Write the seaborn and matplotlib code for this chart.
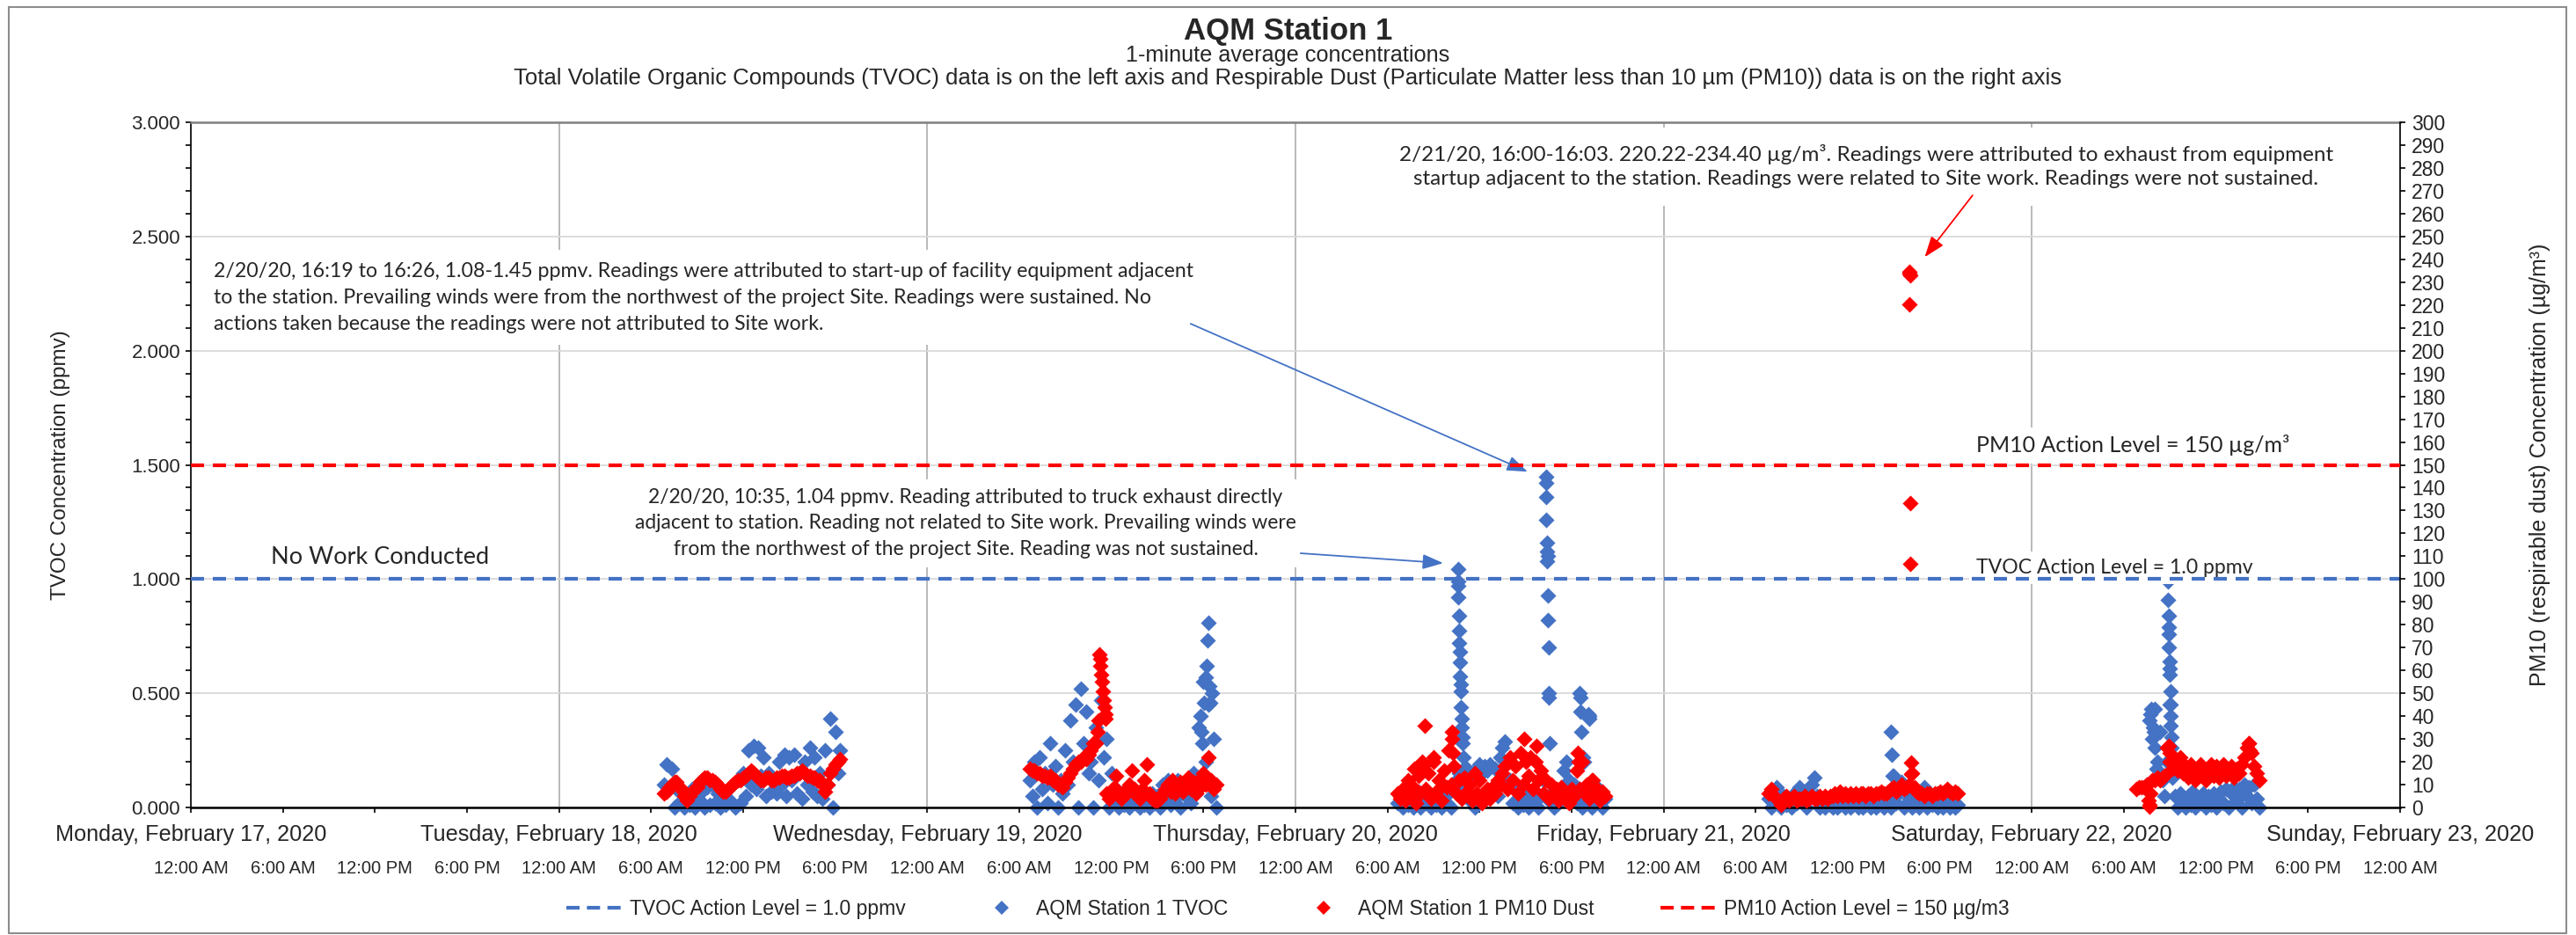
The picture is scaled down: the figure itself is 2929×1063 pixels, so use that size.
import pandas as pd
import seaborn as sns
import matplotlib.pyplot as plt
import matplotlib.dates as mdates
from matplotlib.lines import Line2D
from matplotlib.patches import Rectangle
from matplotlib.ticker import FixedLocator, MultipleLocator, FormatStrFormatter

BLUE = '#4472C4'
RED = '#FF0000'

# 10-minute readings, one block per working day
tvoc_feb18_start = '2020-02-18 06:50'
tvoc_feb18 = [0.10, 0.19, 0.08, 0.17, 0.00, 0.08,
              0.02, 0.06, 0.00, 0.05, 0.01, 0.08,
              0.00, 0.10, 0.03, 0.07, 0.00, 0.09,
              0.01, 0.10, 0.02, 0.06, 0.00, 0.05,
              0.01, 0.08, 0.03, 0.10, 0.00, 0.12,
              0.02, 0.15, 0.05, 0.25, 0.10, 0.27,
              0.08, 0.26, 0.14, 0.22, 0.05, 0.15,
              0.07, 0.12, 0.06, 0.20, 0.10, 0.23,
              0.05, 0.22, 0.12, 0.23, 0.06, 0.15,
              0.04, 0.20, 0.10, 0.26, 0.07, 0.22,
              0.05, 0.15, 0.04, 0.25, 0.10, 0.39,
              0.00, 0.33, 0.15, 0.25]
pm10_feb18_start = '2020-02-18 06:50'
pm10_feb18 = [6, 7, 9, 10, 11, 11,
              9, 8, 5, 3, 5, 7,
              8, 9, 11, 12, 13, 13,
              12, 12, 11, 10, 8, 7,
              7, 8, 9, 10, 11, 12,
              12, 13, 14, 15, 16, 15,
              14, 13, 12, 12, 13, 13,
              12, 12, 13, 13, 14, 14,
              13, 13, 14, 14, 15, 15,
              16, 15, 14, 14, 13, 13,
              12, 12, 10, 7, 10, 15,
              17, 19, 20, 21]

tvoc_feb19_start = '2020-02-19 06:40'
tvoc_feb19 = [0.12, 0.05,
              0.20, 0.00, 0.22, 0.08, 0.15, 0.02,
              0.28, 0.10, 0.18, 0.00, 0.12, 0.06,
              0.25, 0.10, 0.38, 0.20, 0.45, 0.00,
              0.52, 0.28, 0.42, 0.15, 0.20, 0.00,
              0.35, 0.12, 0.47, 0.22, 0.30, 0.00,
              0.15, 0.03, 0.08, 0.00, 0.06, 0.01,
              0.05, 0.00, 0.08, 0.02, 0.06, 0.00,
              0.05, 0.01, 0.04, 0.00, 0.06, 0.02,
              0.05, 0.00, 0.10, 0.03, 0.12, 0.01,
              0.10, 0.04, 0.12, 0.00, 0.10, 0.05,
              0.12, 0.02, 0.15, 0.06, 0.35, 0.10,
              0.55, 0.20, 0.45, 0.05, 0.30, 0.00]
pm10_feb19_start = '2020-02-19 06:40'
pm10_feb19 = [17, 16,
              16, 15, 15, 14, 14, 13,
              14, 12, 12, 10, 10, 9,
              11, 13, 15, 17, 19, 20,
              20, 22, 21, 23, 25, 28,
              28, 38, 58, 47, 6, 4,
              5, 9, 14, 5, 4, 7,
              6, 10, 16, 8, 5, 4,
              8, 12, 19, 6, 4, 3,
              3, 4, 6, 8, 10, 7,
              12, 6, 9, 11, 7, 10,
              13, 8, 11, 6, 12, 9,
              15, 10, 22, 12, 8, 10]

tvoc_feb20_start = '2020-02-20 06:40'
tvoc_feb20 = [0.02, 0.05,
              0.00, 0.04, 0.01, 0.06, 0.00, 0.03,
              0.07, 0.00, 0.05, 0.02, 0.06, 0.00,
              0.04, 0.01, 0.07, 0.00, 0.05, 0.02,
              0.06, 0.00, 0.08, 0.12, 0.15, 0.05,
              0.10, 0.17, 0.03, 0.15, 0.00, 0.16,
              0.19, 0.15, 0.18, 0.16, 0.19, 0.08,
              0.17, 0.05, 0.22, 0.26, 0.29, 0.20,
              0.12, 0.02, 0.08, 0.00, 0.05, 0.01,
              0.06, 0.00, 0.04, 0.02, 0.06, 0.00,
              0.05, 0.12, 0.05, 0.03, 0.06, 0.00,
              0.05, 0.02, 0.07, 0.16, 0.20, 0.12,
              0.05, 0.10, 0.02, 0.08, 0.00, 0.05,
              0.02, 0.06, 0.00, 0.10, 0.03, 0.06,
              0.00, 0.04]
pm10_feb20_start = '2020-02-20 06:40'
pm10_feb20 = [6, 4,
              8, 3, 12, 5, 9, 2,
              14, 6, 18, 8, 15, 4,
              20, 7, 12, 3, 16, 9,
              25, 10, 18, 6, 12, 4,
              13, 7, 10, 3, 15, 6,
              12, 2, 6, 8, 4, 9,
              6, 12, 10, 15, 18, 8,
              22, 12, 18, 6, 24, 10,
              20, 14, 22, 8, 20, 12,
              16, 6, 12, 4, 10, 6,
              8, 3, 9, 5, 6, 2,
              8, 5, 16, 8, 20, 6,
              10, 4, 12, 6, 8, 3,
              7, 5]

tvoc_feb21_start = '2020-02-21 06:50'
tvoc_feb21 = [0.04,
              0.00, 0.07, 0.09, 0.02, 0.00, 0.05,
              0.01, 0.03, 0.00, 0.06, 0.02, 0.09,
              0.03, 0.07, 0.00, 0.04, 0.10, 0.13,
              0.05, 0.00, 0.02, 0.00, 0.03, 0.01,
              0.00, 0.02, 0.00, 0.01, 0.03, 0.00,
              0.02, 0.00, 0.01, 0.03, 0.00, 0.02,
              0.00, 0.01, 0.03, 0.00, 0.02, 0.00,
              0.01, 0.03, 0.00, 0.02, 0.04, 0.00,
              0.14, 0.02, 0.06, 0.11, 0.00, 0.02,
              0.04, 0.00, 0.01, 0.03, 0.00, 0.02,
              0.09, 0.00, 0.02, 0.01, 0.03, 0.00,
              0.02, 0.00, 0.01, 0.03, 0.00, 0.02,
              0.00, 0.01]
pm10_feb21_start = '2020-02-21 06:50'
pm10_feb21 = [6,
              8, 5, 4, 3, 1, 4,
              5, 3, 4, 5, 3, 4,
              4, 5, 3, 4, 5, 4,
              4, 5, 4, 5, 4, 5,
              5, 6, 5, 7, 5, 6,
              5, 6, 5, 6, 5, 6,
              6, 5, 6, 6, 5, 6,
              6, 7, 6, 6, 7, 8,
              9, 7, 8, 10, 8, 9,
              10, 15, 9, 7, 6, 6,
              5, 6, 6, 5, 6, 6,
              7, 6, 7, 8, 7, 6,
              7, 6]

tvoc_feb22_start = '2020-02-22 07:30'
tvoc_feb22 = [0.10, 0.38, 0.30,
              0.43, 0.20, 0.33, 0.12, 0.05, 0.20,
              0.45, 0.15, 0.05, 0.00, 0.06, 0.02,
              0.00, 0.05, 0.01, 0.07, 0.00, 0.04,
              0.02, 0.06, 0.00, 0.05, 0.01, 0.06,
              0.00, 0.04, 0.07, 0.02, 0.08, 0.00,
              0.06, 0.09, 0.03, 0.08, 0.00, 0.10,
              0.05, 0.09, 0.02, 0.10, 0.04, 0.00]
pm10_feb22_start = '2020-02-22 06:50'
pm10_feb22 = [8,
              9, 9, 9, 10, 1, 12,
              12, 13, 12, 13, 14, 26,
              20, 17, 19, 16, 22, 15,
              18, 13, 19, 14, 12, 17,
              19, 14, 12, 17, 19, 14,
              18, 13, 16, 19, 14, 16,
              18, 13, 17, 15, 19, 22,
              26, 28, 24, 18, 15, 12]

# single 1-minute readings in the short spikes
tvoc_spike_times = ['2020-02-19 17:48', '2020-02-19 17:52', '2020-02-19 17:56', '2020-02-19 18:02',
                    '2020-02-19 18:08', '2020-02-19 18:12', '2020-02-19 18:15', '2020-02-19 18:18',
                    '2020-02-19 18:24', '2020-02-19 18:28', '2020-02-19 18:33',
                    '2020-02-20 10:35', '2020-02-20 10:36', '2020-02-20 10:37', '2020-02-20 10:38',
                    '2020-02-20 10:39', '2020-02-20 10:40', '2020-02-20 10:41', '2020-02-20 10:42',
                    '2020-02-20 10:43', '2020-02-20 10:44', '2020-02-20 10:45', '2020-02-20 10:46',
                    '2020-02-20 10:48', '2020-02-20 10:49', '2020-02-20 10:50', '2020-02-20 10:52',
                    '2020-02-20 10:54', '2020-02-20 10:56', '2020-02-20 10:58',
                    '2020-02-20 16:19', '2020-02-20 16:20', '2020-02-20 16:21', '2020-02-20 16:22',
                    '2020-02-20 16:23', '2020-02-20 16:24', '2020-02-20 16:25', '2020-02-20 16:26',
                    '2020-02-20 16:27', '2020-02-20 16:28', '2020-02-20 16:29', '2020-02-20 16:31',
                    '2020-02-20 16:32', '2020-02-20 16:34',
                    '2020-02-20 18:32', '2020-02-20 18:34', '2020-02-20 18:36', '2020-02-20 18:38',
                    '2020-02-20 18:44', '2020-02-20 18:48', '2020-02-20 19:06', '2020-02-20 19:08',
                    '2020-02-20 19:10',
                    '2020-02-21 14:50', '2020-02-21 14:52', '2020-02-21 14:54',
                    '2020-02-22 07:45', '2020-02-22 07:48', '2020-02-22 07:52', '2020-02-22 07:56',
                    '2020-02-22 08:02', '2020-02-22 08:08', '2020-02-22 08:52', '2020-02-22 08:53',
                    '2020-02-22 08:54', '2020-02-22 08:55', '2020-02-22 08:56', '2020-02-22 08:57',
                    '2020-02-22 08:58', '2020-02-22 08:59', '2020-02-22 09:00', '2020-02-22 09:01',
                    '2020-02-22 09:02', '2020-02-22 09:03', '2020-02-22 09:04', '2020-02-22 09:05',
                    '2020-02-22 09:06', '2020-02-22 09:07', '2020-02-22 09:08']
tvoc_spike_values = [0.40, 0.33, 0.28, 0.46, 0.57, 0.62, 0.73, 0.81, 0.53, 0.46, 0.50,
                     1.045, 0.99, 0.97, 0.92, 0.84, 0.775, 0.72, 0.68, 0.635, 0.575, 0.54, 0.51,
                     0.44, 0.39, 0.35, 0.31, 0.28, 0.22, 0.17,
                     1.45, 1.42, 1.36, 1.26, 1.16, 1.12, 1.08, 1.10, 0.93, 0.82, 0.70, 0.50,
                     0.48, 0.28,
                     0.50, 0.48, 0.42, 0.33, 0.22, 0.20, 0.41, 0.40, 0.39,
                     0.33, 0.23, 0.14,
                     0.41, 0.43, 0.35, 0.33, 0.26, 0.17, 0.99, 0.91, 0.84, 0.79, 0.76, 0.70,
                     0.64, 0.61, 0.58, 0.51, 0.45, 0.40, 0.36, 0.31, 0.26, 0.20, 0.13]

pm10_spike_times = ['2020-02-19 11:05', '2020-02-19 11:12', '2020-02-19 11:15', '2020-02-19 11:18',
                    '2020-02-19 11:23', '2020-02-19 11:26', '2020-02-19 11:33', '2020-02-19 11:36',
                    '2020-02-19 11:38',
                    '2020-02-20 07:45', '2020-02-20 08:17', '2020-02-20 08:26', '2020-02-20 09:00',
                    '2020-02-20 10:11', '2020-02-20 10:13', '2020-02-20 10:15', '2020-02-20 14:55',
                    '2020-02-20 15:41', '2020-02-20 18:25', '2020-02-20 18:28', '2020-02-20 19:24',
                    '2020-02-21 16:00', '2020-02-21 16:01', '2020-02-21 16:02', '2020-02-21 16:03',
                    '2020-02-21 16:04', '2020-02-21 16:05', '2020-02-21 16:07', '2020-02-21 16:09',
                    '2020-02-22 07:38', '2020-02-22 07:40', '2020-02-22 07:42', '2020-02-22 08:55',
                    '2020-02-22 09:00', '2020-02-22 14:08', '2020-02-22 14:12']
pm10_spike_values = [33, 67, 65, 62, 55, 51, 44, 41, 39,
                     17, 20, 36, 22, 33, 30, 24, 30, 27, 24, 20, 12,
                     220.22, 234.40, 233.6, 232.9, 133.2, 106.8, 19.8, 14.6,
                     3, 0.5, 6, 27, 24, 28, 25]

date_ticks = ['2020-02-17', '2020-02-18', '2020-02-19', '2020-02-20',
              '2020-02-21', '2020-02-22', '2020-02-23']
date_labels = ['Monday, February 17, 2020', 'Tuesday, February 18, 2020',
               'Wednesday, February 19, 2020', 'Thursday, February 20, 2020',
               'Friday, February 21, 2020', 'Saturday, February 22, 2020',
               'Sunday, February 23, 2020']
time_labels = ['12:00 AM', '6:00 AM', '12:00 PM', '6:00 PM'] * 6 + ['12:00 AM']

tvoc_action = 1.0
pm10_action = 150


def readings(blocks, spike_times, spike_values, name):
    parts = [pd.DataFrame({'Time': pd.date_range(start, periods=len(vals), freq='10min'), name: vals})
             for start, vals in blocks]
    parts.append(pd.DataFrame({'Time': pd.to_datetime(spike_times), name: spike_values}))
    return pd.concat(parts, ignore_index=True)


tvoc = readings([(tvoc_feb18_start, tvoc_feb18), (tvoc_feb19_start, tvoc_feb19),
                 (tvoc_feb20_start, tvoc_feb20), (tvoc_feb21_start, tvoc_feb21),
                 (tvoc_feb22_start, tvoc_feb22)], tvoc_spike_times, tvoc_spike_values, 'TVOC')
pm10 = readings([(pm10_feb18_start, pm10_feb18), (pm10_feb19_start, pm10_feb19),
                 (pm10_feb20_start, pm10_feb20), (pm10_feb21_start, pm10_feb21),
                 (pm10_feb22_start, pm10_feb22)], pm10_spike_times, pm10_spike_values, 'PM10')


def t(s):
    return mdates.date2num(pd.Timestamp(s))


sns.set_theme(style='white')
plt.rcParams['font.family'] = ['Liberation Sans', 'DejaVu Sans']
note_font = ['Lato', 'DejaVu Sans']

fig = plt.figure(figsize=(29.29, 10.63), dpi=100)
ax = fig.add_axes([0.0741, 0.1364, 0.8576, 0.7328])
ax2 = ax.twinx()

ax.set_axisbelow(True)
ax.yaxis.grid(True, color='#d9d9d9', lw=1.3)
ax.xaxis.grid(True, which='major', color='#a6a6a6', lw=1.1)

sns.scatterplot(data=tvoc, x='Time', y='TVOC', ax=ax, color=BLUE, marker='D', s=85,
                linewidth=0, clip_on=False, zorder=2, legend=False)
sns.scatterplot(data=pm10, x='Time', y='PM10', ax=ax2, color=RED, marker='D', s=85,
                linewidth=0, clip_on=False, zorder=2, legend=False)

ax.axhline(tvoc_action, color=BLUE, lw=3, ls=(0, (3.6, 2.4)), zorder=4)
ax2.axhline(pm10_action, color=RED, lw=3, ls=(0, (3.6, 2.4)), zorder=4)

ax.set_xlim(t(date_ticks[0]), t(date_ticks[-1]))
ax.set_ylim(0, 3)
ax2.set_ylim(0, 300)

# y axes
ax.yaxis.set_major_locator(MultipleLocator(0.5))
ax.yaxis.set_minor_locator(MultipleLocator(0.1))
ax.yaxis.set_major_formatter(FormatStrFormatter('%.3f'))
ax.tick_params(axis='y', which='both', left=True, direction='out', length=4.5, width=1.2,
               color='black', labelsize=16, pad=4)
ax2.yaxis.set_major_locator(MultipleLocator(10))
ax2.yaxis.set_major_formatter(FormatStrFormatter('%d'))
ax2.tick_params(axis='y', right=True, direction='out', length=4.5, width=1.2,
                color='black', labelsize=16.5, pad=5)

# x axis: dates on the first row, clock times on the second
hour_ticks = [mdates.date2num(d) for d in pd.date_range(date_ticks[0], date_ticks[-1], freq='6h')]
ax.xaxis.set_major_locator(FixedLocator([t(d) for d in date_ticks]))
ax.set_xticklabels(date_labels)
ax.xaxis.set_minor_locator(FixedLocator(hour_ticks))
ax.tick_params(axis='x', which='both', bottom=True, direction='out', length=4.5, width=1.2,
               color='black', labelsize=18.2, pad=9)
secax = ax.secondary_xaxis('bottom')
secax.set_xticks(hour_ticks, labels=time_labels)
secax.tick_params(length=0, pad=43, labelsize=14.5)
secax.spines['bottom'].set_visible(False)

ax.set_xlabel('')
ax.set_ylabel('TVOC Concentration (ppmv)', fontsize=17.5, labelpad=50)
ax2.set_ylabel('PM10 (respirable dust) Concentration (µg/m³)', fontsize=18, labelpad=69)

for side in ['left', 'bottom']:
    ax.spines[side].set_color('black')
ax.spines['left'].set_linewidth(1.2)
ax.spines['bottom'].set_linewidth(1.8)
ax.spines['top'].set_color('#7f7f7f')
ax.spines['top'].set_linewidth(1.8)
ax.spines['right'].set_visible(False)
for side in ['left', 'top', 'bottom']:
    ax2.spines[side].set_visible(False)
ax2.spines['right'].set_color('black')
ax2.spines['right'].set_linewidth(1.2)

# notes on the chart
box = dict(facecolor='white', edgecolor='none', pad=6)
ax.text(t('2020-02-17 05:13'), 1.097, 'No Work Conducted', fontsize=19.5, family=note_font,
        ha='left', va='center', bbox=box, zorder=3)
ax.text(t('2020-02-21 20:22'), 1.585, 'PM10 Action Level = 150 µg/m³', fontsize=18,
        family=note_font, ha='left', va='center', bbox=box, zorder=3)
ax.text(t('2020-02-21 20:22'), 1.05, 'TVOC Action Level = 1.0 ppmv', fontsize=16.6,
        family=note_font, ha='left', va='center', bbox=box, zorder=3)

ax.text(t('2020-02-17 01:29'), 2.233,
        '2/20/20, 16:19 to 16:26, 1.08-1.45 ppmv. Readings were attributed to start-up of facility '
        'equipment adjacent\nto the station. Prevailing winds were from the northwest of the project '
        'Site. Readings were sustained. No\nactions taken because the readings were not attributed '
        'to Site work.',
        fontsize=16.7, family=note_font, ha='left', va='center', linespacing=1.52,
        bbox=dict(facecolor='white', edgecolor='none', pad=10), zorder=3)
ax.text(t('2020-02-19 02:30'), 1.244,
        '2/20/20, 10:35, 1.04 ppmv. Reading attributed to truck exhaust directly\n'
        'adjacent to station. Reading not related to Site work. Prevailing winds were\n'
        'from the northwest of the project Site. Reading was not sustained.',
        fontsize=16.4, family=note_font, ha='center', va='center', multialignment='center',
        linespacing=1.5, bbox=dict(facecolor='white', edgecolor='none', pad=7), zorder=3)
ax.text(t('2020-02-21 13:12'), 2.807,
        '2/21/20, 16:00-16:03. 220.22-234.40 µg/m³. Readings were attributed to exhaust from equipment\n'
        'startup adjacent to the station. Readings were related to Site work. Readings were not sustained.',
        fontsize=17.5, family=note_font, ha='center', va='center', multialignment='center',
        linespacing=1.37, bbox=dict(facecolor='white', edgecolor='none', pad=14), zorder=3)

arrow_blue = dict(arrowstyle='-|>,head_length=0.55,head_width=0.2', color=BLUE, lw=1.3,
                  mutation_scale=26, shrinkA=0, shrinkB=0)
ax.annotate('', xy=(t('2020-02-20 15:08'), 1.47), xytext=(t('2020-02-19 17:10'), 2.118),
            arrowprops=arrow_blue, zorder=5)
ax.annotate('', xy=(t('2020-02-20 09:38'), 1.07), xytext=(t('2020-02-20 00:20'), 1.113),
            arrowprops=arrow_blue, zorder=5)
ax2.annotate('', xy=(t('2020-02-21 17:01'), 241), xytext=(t('2020-02-21 20:08'), 268),
             arrowprops=dict(arrowstyle='-|>,head_length=0.55,head_width=0.2', color=RED, lw=1.3,
                             mutation_scale=26, shrinkA=0, shrinkB=0), zorder=5)

# titles
fig.text(0.5, 0.967, 'AQM Station 1', ha='center', va='center', fontsize=25, fontweight='bold')
fig.text(0.5, 0.941, '1-minute average concentrations', ha='center', va='center', fontsize=18.2)
fig.text(0.5, 0.916, 'Total Volatile Organic Compounds (TVOC) data is on the left axis and Respirable '
         'Dust (Particulate Matter less than 10 µm (PM10)) data is on the right axis',
         ha='center', va='center', fontsize=18.5)

# legend
dash = (0, (3.6, 2))
handles = [Line2D([], [], color=BLUE, lw=3, ls=dash),
           Line2D([], [], color=BLUE, marker='D', ls='none', ms=8, mew=0),
           Line2D([], [], color=RED, marker='D', ls='none', ms=8, mew=0),
           Line2D([], [], color=RED, lw=3, ls=dash)]
labels = ['TVOC Action Level = 1.0 ppmv', 'AQM Station 1 TVOC', 'AQM Station 1 PM10 Dust',
          'PM10 Action Level = 150 µg/m3']
fig.legend(handles, labels, loc='center', bbox_to_anchor=(0.5, 0.028), ncol=4, frameon=False,
           fontsize=16.5, handlelength=2.9, handletextpad=0.25, columnspacing=3.3)

fig.add_artist(Rectangle((0.0034, 0.0019), 0.9928, 0.9906, transform=fig.transFigure,
                         fill=False, edgecolor='#8c8c8c', lw=1.5))

fig.savefig('out.png', dpi=100)
